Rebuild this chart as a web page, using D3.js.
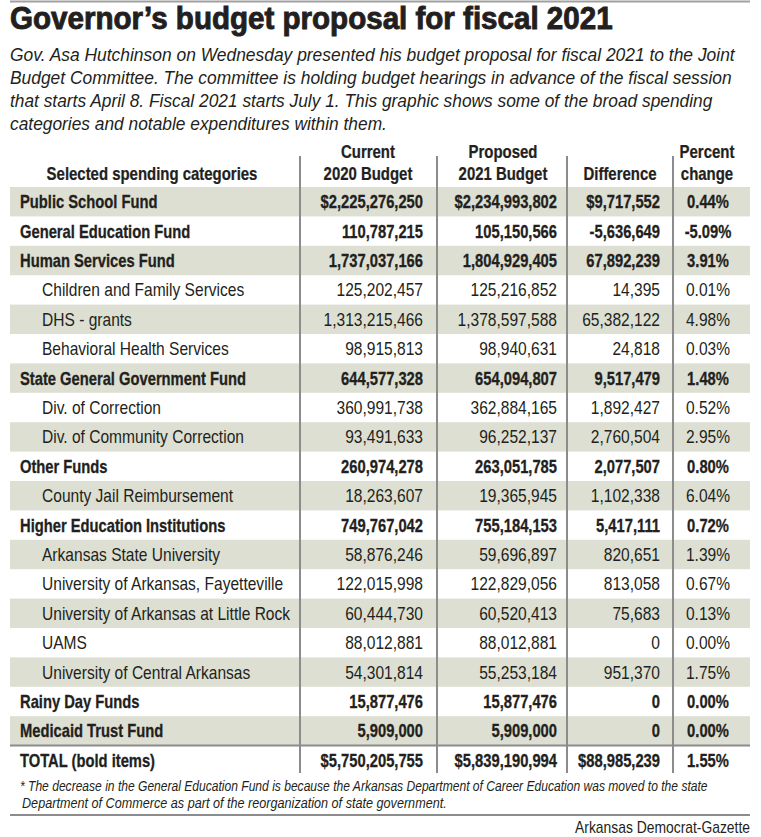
<!DOCTYPE html>
<html><head><meta charset="utf-8">
<script src="https://cdn.jsdelivr.net/npm/d3@7"></script>
<style>
body{margin:0;background:#fff;}
svg{display:block;}
text{font-family:"Liberation Sans",Arial,Helvetica,sans-serif;fill:#231f20;}
</style></head>
<body>
<svg id="chart" width="761" height="837"></svg>
<script>
const title = "Governor’s budget proposal for fiscal 2021";
const subtitleLines = [
  "Gov. Asa Hutchinson on Wednesday presented his budget proposal for fiscal 2021 to the Joint",
  "Budget Committee. The committee is holding budget hearings in advance of the fiscal session",
  "that starts April 8. Fiscal 2021 starts July 1. This graphic shows some of the broad spending",
  "categories and notable expenditures within them."
];
const headerLabels = [
  ["Selected spending categories"],
  ["Current", "2020 Budget"],
  ["Proposed", "2021 Budget"],
  ["Difference"],
  ["Percent", "change"]
];
const categories = [
  "Public School Fund","General Education Fund","Human Services Fund","Children and Family Services",
  "DHS - grants","Behavioral Health Services","State General Government Fund","Div. of Correction",
  "Div. of Community Correction","Other Funds","County Jail Reimbursement","Higher Education Institutions",
  "Arkansas State University","University of Arkansas, Fayetteville","University of Arkansas at Little Rock",
  "UAMS","University of Central Arkansas","Rainy Day Funds","Medicaid Trust Fund","TOTAL (bold items)"
];
const isMain = [true,true,true,false,false,false,true,false,false,true,false,true,false,false,false,false,false,true,true,true];
const withDollar = [true,false,false,false,false,false,false,false,false,false,false,false,false,false,false,false,false,false,false,true];
const current2020 = [2225276250,110787215,1737037166,125202457,1313215466,98915813,644577328,360991738,93491633,260974278,18263607,749767042,58876246,122015998,60444730,88012881,54301814,15877476,5909000,5750205755];
const proposed2021 = [2234993802,105150566,1804929405,125216852,1378597588,98940631,654094807,362884165,96252137,263051785,19365945,755184153,59696897,122829056,60520413,88012881,55253184,15877476,5909000,5839190994];
const difference = [9717552,-5636649,67892239,14395,65382122,24818,9517479,1892427,2760504,2077507,1102338,5417111,820651,813058,75683,0,951370,0,0,88985239];
const percentChange = [0.44,-5.09,3.91,0.01,4.98,0.03,1.48,0.52,2.95,0.80,6.04,0.72,1.39,0.67,0.13,0.00,1.75,0.00,0.00,1.55];
const footnoteLines = [
  "* The decrease in the General Education Fund is because the Arkansas Department of Career Education was moved to the state",
  "Department of Commerce as part of the reorganization of state government."
];
const source = "Arkansas Democrat-Gazette";

const svg = d3.select("#chart");
const left = 10, right = 750;
const gray = "#8c8c8c";
const ink = "#231f20";

// helper: text with horizontal condensing via transform
function addText(parent, x, y, str, o) {
  const t = parent.append("text")
    .attr("font-size", o.size)
    .attr("font-weight", o.weight || "normal")
    .attr("font-style", o.style || "normal")
    .attr("text-anchor", o.anchor || "start")
    .text(str);
  if (o.stroke) t.attr("stroke", ink).attr("stroke-width", o.stroke);
  let sx = o.sx || 1;
  if (o.fit) {
    const w = t.node().getComputedTextLength();
    sx = o.fit / w;
  }
  t.attr("transform", `translate(${x},${y}) scale(${sx},1)`);
  return t;
}

// top rule
svg.append("line").attr("x1",left).attr("x2",right).attr("y1",1.5).attr("y2",1.5)
  .attr("stroke","#a0a0a0").attr("stroke-width",2);

addText(svg, left, 29, title, {size:30.5, weight:"bold", fit:603, stroke:0.9});

const subW = [725,722,703,377];
subtitleLines.forEach((s,i)=> addText(svg, left, 61+i*23, s, {size:19, style:"italic", fit:subW[i]}));

// table geometry
const tableTop = 187, rowH = 29.4;
const y = d3.scaleBand().domain(categories).range([tableTop, tableTop + rowH*categories.length]).padding(0);

// shading
svg.append("g").selectAll("rect").data(categories.filter((c,i)=>i%2===0 && i<categories.length-1))
  .join("rect").attr("x",left).attr("width",right-left)
  .attr("y",d=>y(d)).attr("height",y.bandwidth()).attr("fill","#dcdfd1");

// line above total
const totY = y(categories[categories.length-1]);
svg.append("line").attr("x1",left).attr("x2",right).attr("y1",totY).attr("y2",totY)
  .attr("stroke",gray).attr("stroke-width",2);

// vertical separators
const sepX = [300,437,567,673];
svg.append("g").selectAll("line").data(sepX).join("line")
  .attr("x1",d=>d).attr("x2",d=>d).attr("y1",156).attr("y2",773)
  .attr("stroke",gray).attr("stroke-width",2);

// headers
const headerCenters = [152,368,503,620,707];
const hdr = svg.append("g");
headerLabels.forEach((lines,i)=>{
  lines.forEach((t,j)=>{
    const yy = 180 - (lines.length-1-j)*22;
    addText(hdr, headerCenters[i], yy, t, {size:18, weight:"bold", anchor:"middle", sx:0.83, stroke:0.25});
  });
});

const loc = d3.formatLocale({decimal:".", thousands:",", grouping:[3], currency:["$",""], minus:"-"});
const fmt = loc.format(",");
const pct = loc.format(".2f");
const money = (v,i)=> (withDollar[i] ? "$" : "") + fmt(v);

const body = svg.append("g");
categories.forEach((c,i)=>{
  const yy = y(c) + y.bandwidth()/2 + 6.5;
  const o = isMain[i] ? {size:18.2, weight:"bold", sx:0.81, stroke:0.3} : {size:18.2, weight:"normal", sx:0.855};
  addText(body, isMain[i]?20:42, yy, c, o);
  addText(body, 423, yy, money(current2020[i],i), {...o, anchor:"end"});
  addText(body, 557, yy, money(proposed2021[i],i), {...o, anchor:"end"});
  addText(body, 660, yy, money(difference[i],i), {...o, anchor:"end"});
  addText(body, 708, yy, pct(percentChange[i])+"%", {...o, anchor:"middle"});
});

// footnote
const fnX = [20,22], fnW = [688,425];
footnoteLines.forEach((s,i)=> addText(svg, fnX[i], 791+i*16.5, s, {size:14, style:"italic", fit:fnW[i]}));

svg.append("line").attr("x1",left).attr("x2",right).attr("y1",815).attr("y2",815)
  .attr("stroke",gray).attr("stroke-width",2);

addText(svg, right, 833, source, {size:16, anchor:"end", fit:175});
</script>
</body></html>
